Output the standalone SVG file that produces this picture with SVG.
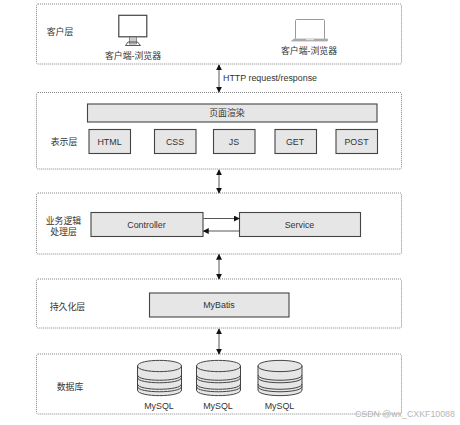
<svg xmlns="http://www.w3.org/2000/svg" width="460" height="425" viewBox="0 0 460 425">
<style>
text{font-family:"Liberation Sans","Noto Sans CJK SC",sans-serif;font-size:8.900px;fill:#333;text-anchor:middle}
.layer{fill:#fff;stroke:#666;stroke-width:.8;stroke-dasharray:1 1}
.box{fill:#e6e6e6;stroke:#444;stroke-width:1.100}
.conn{fill:none;stroke:#444;stroke-width:.9}
.cyl{fill:#e6e6e6;stroke:#444;stroke-width:1}
.cl{fill:none;stroke:#444;stroke-width:1}
</style>
<defs>
<marker id="a" viewBox="0 0 8 8" refX="7" refY="4" markerWidth="6" markerHeight="6" markerUnits="userSpaceOnUse" orient="auto-start-reverse"><path d="M0 0L8 4L0 8z" fill="#111"/></marker>
<g id="cylinder">
<path class="cyl" d="M0 6C0 -1.500 44 -1.500 44 6V30C44 37.500 0 37.500 0 30z"/>
<path class="cl" d="M0 6C0 13.500 44 13.500 44 6M0 15C0 22 44 22 44 15M0 17.500C0 24.500 44 24.500 44 17.500M0 24C0 31 44 31 44 24M0 26.500C0 33.500 44 33.500 44 26.500"/>
</g>
</defs>
<rect width="460" height="425" fill="#fff"/>
<g id="client-layer">
<rect class="layer" x="36.500" y="4" width="365" height="60" rx="1.500"/>
<text x="60" y="35">客户层</text>
<g id="desktop">
<rect x="118.800" y="15.300" width="28" height="21.500" fill="#fff" stroke="#444" stroke-width="1.200"/>
<rect x="129.500" y="37" width="7" height="7" fill="#ccc" stroke="#555" stroke-width=".6"/>
<path d="M125.500 45.500L128 42H137.500L140.500 45.500z" fill="none" stroke="#444" stroke-width=".9"/>
</g>
<text x="133" y="59">客户端-浏览器</text>
<g id="laptop">
<rect x="295.500" y="19.500" width="29" height="20" rx="1" fill="#fff" stroke="#999" stroke-width="1"/>
<path d="M291.500 41H327.500V39H325L294 39L291.500 41z" fill="#aaa" stroke="#aaa" stroke-width=".8"/>
<rect x="306" y="39" width="8" height="1.200" fill="#ddd"/>
</g>
<text x="309" y="54">客户端-浏览器</text>
</g>
<text id="http-label" x="223" y="81" style="text-anchor:start">HTTP request/response</text>
<g id="presentation-layer">
<rect class="layer" x="36.500" y="92.500" width="365" height="76.500" rx="1.500"/>
<text x="64" y="145">表示层</text>
</g>
<g id="render"><rect class="box" x="87.500" y="104" width="289.500" height="18"/><text x="227" y="116">页面渲染</text></g>
<g id="html"><rect class="box" x="89" y="129.500" width="41.500" height="24"/><text x="109.500" y="145">HTML</text></g>
<g id="css"><rect class="box" x="154.500" y="129.500" width="41.500" height="24"/><text x="175" y="145">CSS</text></g>
<g id="js"><rect class="box" x="213.500" y="129.500" width="41.500" height="24"/><text x="234" y="145">JS</text></g>
<g id="get"><rect class="box" x="275" y="129.500" width="41.500" height="24"/><text x="295" y="145">GET</text></g>
<g id="post"><rect class="box" x="336" y="129.500" width="41.500" height="24"/><text x="356.500" y="145">POST</text></g>
<g id="business-layer">
<rect class="layer" x="36.500" y="193" width="365" height="61" rx="1.500"/>
<text x="63.500" y="224">业务逻辑</text>
<text x="63.500" y="234.500">处理层</text>
</g>
<g id="controller"><rect class="box" x="91" y="212.500" width="112" height="24"/><text x="146.500" y="228">Controller</text></g>
<g id="service"><rect class="box" x="239.500" y="212.500" width="121" height="24"/><text x="299.500" y="228">Service</text></g>
<g id="persistence-layer">
<rect class="layer" x="36.500" y="279" width="365" height="49" rx="1.500"/>
<text x="67.500" y="310">持久化层</text>
</g>
<g id="mybatis"><rect class="box" x="149.500" y="293" width="139.500" height="24"/><text x="219" y="308">MyBatis</text></g>
<g id="data-layer">
<rect class="layer" x="36.500" y="354" width="365" height="60" rx="1.500"/>
<text x="70" y="390">数据库</text>
</g>
<g id="db1"><use href="#cylinder" x="137.500" y="360"/><text x="159" y="409">MySQL</text></g>
<g id="db2"><use href="#cylinder" x="196.500" y="360"/><text x="218" y="409">MySQL</text></g>
<g id="db3"><use href="#cylinder" x="258" y="360"/><text x="279.500" y="409">MySQL</text></g>
<g id="connectors">
<path class="conn" d="M219 65V92" marker-start="url(#a)" marker-end="url(#a)"/>
<path class="conn" d="M219 170V193" marker-start="url(#a)" marker-end="url(#a)"/>
<path class="conn" d="M219 254.500V279" marker-start="url(#a)" marker-end="url(#a)"/>
<path class="conn" d="M219 329V354" marker-start="url(#a)" marker-end="url(#a)"/>
<path class="conn" d="M203.500 218.500H239" marker-end="url(#a)"/>
<path class="conn" d="M239 231H203.500" marker-end="url(#a)"/>
</g>
<text id="watermark" x="355" y="417" style="text-anchor:start;font-size:8.800px;fill:#b5b5b5">CSDN @wx_CXKF10088</text>
</svg>
